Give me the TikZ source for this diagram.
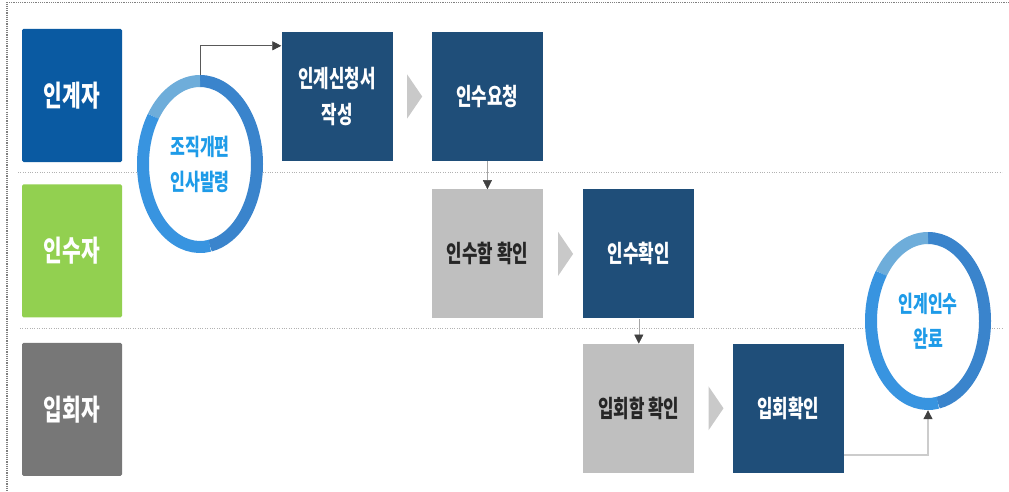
\documentclass[tikz,border=0pt]{standalone}
\usepackage{fontspec}
\newfontfamily\kr[FakeStretch=0.7]{Noto Sans CJK KR}
\usetikzlibrary{shapes.geometric, arrows.meta, positioning, calc}

\definecolor{laneblue}{HTML}{0A5AA2}
\definecolor{lanegreen}{HTML}{92D050}
\definecolor{lanegray}{HTML}{777777}
\definecolor{procblue}{HTML}{1F4E79}
\definecolor{procgray}{HTML}{BFBFBF}
\definecolor{chevgray}{HTML}{C9C9C9}
\definecolor{ringdark}{HTML}{3A84CC}
\definecolor{ringmid}{HTML}{3894E0}
\definecolor{ringlight}{HTML}{6EADDA}
\definecolor{ringtext}{HTML}{1E9BE8}

\begin{document}
\begin{tikzpicture}
  [x=1pt, y=1pt,
  % swimlane header
  lane/.style = {rectangle, rounded corners=1.5pt, minimum width=100pt,
    minimum height=133pt, inner sep=0pt, text=white,
    font=\kr\bfseries\fontsize{29}{34}\selectfont},
  % process box
  proc/.style = {rectangle, fill=procblue, minimum width=111pt,
    minimum height=129pt, inner sep=0pt, text=white, align=center,
    font=\kr\bfseries\fontsize{24}{36}\selectfont},
  check/.style = {proc, fill=procgray, text=black!85},
  % ring (start / end)
  ring/.style = {ellipse, fill=white, minimum width=126pt,
    minimum height=178pt, inner sep=0pt, align=center, text=ringtext,
    font=\kr\bfseries\fontsize{23}{35}\selectfont},
  % line
  link/.style = {draw, -{Triangle[length=9pt, width=9pt, color=black!75]}},
  sep/.style = {draw=gray!60, dotted, thin},
  frame/.style = {draw=gray, densely dotted, line width=1.2pt},
  node distance = 39pt,
  ]
  \useasboundingbox (0,0) rectangle (1009,491);

  % frame and lane separators
  \draw [frame] (1009,488.5) -- (7,488.5) -- (7,0);
  \draw [sep] (18,319) -- (1002,319);
  \draw [sep] (20,163) -- (1003,163);

  % lanes
  \node [lane, fill=laneblue] (giv) at (72,395.5) {인계자};
  \node [lane, fill=lanegreen, below = 22pt of giv] (rcv) {인수자};
  \node [lane, fill=lanegray, below = 25pt of rcv] (wit) {입회자};

  % nodes
  \node [proc] (apply) at (337,394.5) {인계신청서\\작성};
  \node [proc, right = of apply] (req) {인수요청};
  \node [check, below = 28pt of req] (rchk) {인수함 확인};
  \node [proc, right = 40pt of rchk] (rok) {인수확인};
  \node [check, below = 25pt of rok] (wchk) {입회함 확인};
  \node [proc, right = 38pt of wchk] (wok) {입회확인};
  \node [ring] (org) at (200,327) {조직개편\\인사발령};
  \node [ring] (done) at (928,170) {인계인수\\완료};

  % ring segments
  \foreach \r in {org, done} {
    \draw [ringdark, line width=12pt] ($(\r.center)+(90:57pt and 83pt)$)
      arc [start angle=90, end angle=-80, x radius=57pt, y radius=83pt];
    \draw [ringlight, line width=12pt] ($(\r.center)+(90:57pt and 83pt)$)
      arc [start angle=90, end angle=145, x radius=57pt, y radius=83pt];
    \draw [ringmid, line width=12pt] ($(\r.center)+(145:57pt and 83pt)$)
      arc [start angle=145, end angle=280, x radius=57pt, y radius=83pt];
  }

  % chevrons between steps
  \foreach \a/\b in {apply/req, rchk/rok, wchk/wok}
    \fill [chevgray] ($(\a.east)!0.5!(\b.west)+(-5,22)$) -- ++(15,-22)
      -- ++(-15,-22) -- cycle;

  % path
  \path [link, draw=black!65, line width=0.6pt] (org.north)
    |- ($(apply.north west)+(0,-14)$);
  \path [link, draw=gray!70] (req) -- (rchk);
  \path [link, draw=gray!70] (rok) -- (wchk);
  \path [link, draw=gray!40, line width=1.2pt]
    ($(wok.south east)+(0,18)$) -| (done.south);

\end{tikzpicture}
\end{document}
